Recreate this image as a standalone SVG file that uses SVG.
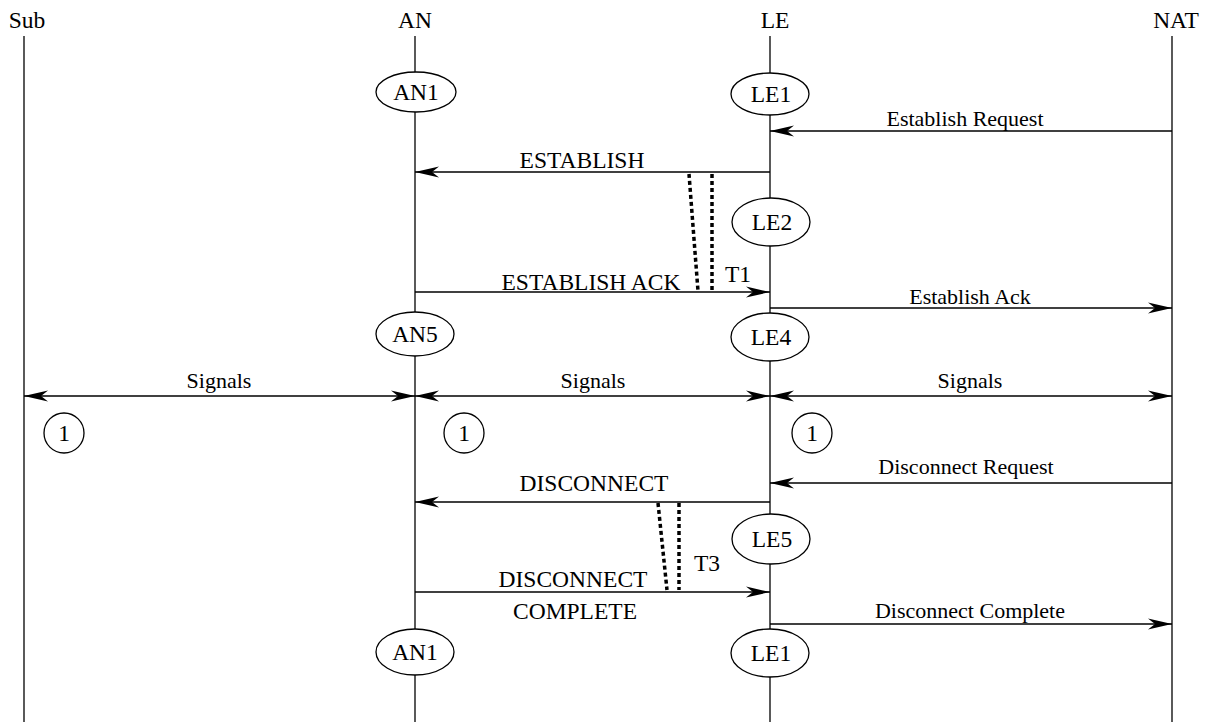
<svg xmlns="http://www.w3.org/2000/svg" width="1213" height="722" viewBox="0 0 1213 722">
<style>
text{font-family:"Liberation Serif","Times New Roman",serif;font-size:22px;fill:#000;text-anchor:middle}
text.u{font-size:23.5px}
.life{stroke:#000;stroke-width:1.3;fill:none}
.msg{stroke:#000;stroke-width:1.3;fill:none}
.node{stroke:#000;stroke-width:1.3;fill:#fff}
.timer{stroke:#000;stroke-width:3.5;stroke-dasharray:4 3;fill:none}
</style>
<defs>
<marker id="ah" viewBox="-25 -6 26 12" refX="0" refY="0" markerWidth="26" markerHeight="12" markerUnits="userSpaceOnUse" orient="auto-start-reverse">
<path d="M0,0 L-24,-5.5 L-17,0 L-24,5.5 Z" fill="#000"/>
</marker>
</defs>
<g id="lifelines">
<line class="life" x1="24" y1="36" x2="24" y2="722"/>
<line class="life" x1="415" y1="36" x2="415" y2="722"/>
<line class="life" x1="770" y1="36" x2="770" y2="722"/>
<line class="life" x1="1172" y1="36" x2="1172" y2="722"/>
<text class="u" x="27" y="28">Sub</text>
<text class="u" x="415" y="28">AN</text>
<text class="u" x="775" y="28">LE</text>
<text class="u" x="1176" y="28">NAT</text>
</g>
<g id="connectors">
<line class="msg" x1="1172" y1="131" x2="770" y2="131" marker-end="url(#ah)"/>
<line class="msg" x1="770" y1="172" x2="415" y2="172" marker-end="url(#ah)"/>
<line class="msg" x1="415" y1="292" x2="770" y2="292" marker-end="url(#ah)"/>
<line class="msg" x1="770" y1="308" x2="1172" y2="308" marker-end="url(#ah)"/>
<line class="msg" x1="24" y1="396" x2="415" y2="396" marker-start="url(#ah)" marker-end="url(#ah)"/>
<line class="msg" x1="415" y1="396" x2="770" y2="396" marker-start="url(#ah)" marker-end="url(#ah)"/>
<line class="msg" x1="770" y1="396" x2="1172" y2="396" marker-start="url(#ah)" marker-end="url(#ah)"/>
<line class="msg" x1="1172" y1="483" x2="770" y2="483" marker-end="url(#ah)"/>
<line class="msg" x1="770" y1="502" x2="415" y2="502" marker-end="url(#ah)"/>
<line class="msg" x1="415" y1="592" x2="770" y2="592" marker-end="url(#ah)"/>
<line class="msg" x1="770" y1="624" x2="1172" y2="624" marker-end="url(#ah)"/>
<line class="timer" x1="689" y1="174" x2="698" y2="291"/>
<line class="timer" x1="712" y1="174" x2="712" y2="291"/>
<line class="timer" x1="658" y1="503" x2="667" y2="590"/>
<line class="timer" x1="679" y1="503" x2="679" y2="590"/>
<text x="965" y="126">Establish Request</text>
<text class="u" x="582" y="168">ESTABLISH</text>
<text class="u" x="738" y="282">T1</text>
<text class="u" x="591" y="290">ESTABLISH ACK</text>
<text x="970" y="304">Establish Ack</text>
<text x="219" y="388">Signals</text>
<text x="593" y="388">Signals</text>
<text x="970" y="388">Signals</text>
<text x="966" y="474">Disconnect Request</text>
<text class="u" x="594" y="491">DISCONNECT</text>
<text class="u" x="707" y="571">T3</text>
<text class="u" x="573" y="587">DISCONNECT</text>
<text class="u" x="575" y="619">COMPLETE</text>
<text x="970" y="618">Disconnect Complete</text>
</g>
<g id="AN1"><ellipse class="node" cx="416" cy="92" rx="40" ry="20"/><text class="u" x="416" y="100">AN1</text></g>
<g id="LE1"><ellipse class="node" cx="770" cy="94" rx="39" ry="21"/><text class="u" x="771" y="102">LE1</text></g>
<g id="LE2"><ellipse class="node" cx="771" cy="222" rx="39" ry="24"/><text class="u" x="772" y="230">LE2</text></g>
<g id="AN5"><ellipse class="node" cx="415" cy="334" rx="39" ry="22"/><text class="u" x="415" y="342">AN5</text></g>
<g id="LE4"><ellipse class="node" cx="770" cy="337" rx="39" ry="24"/><text class="u" x="771" y="345">LE4</text></g>
<g id="C1a"><circle class="node" cx="64" cy="433" r="20"/><text class="u" x="64" y="441">1</text></g>
<g id="C1b"><circle class="node" cx="464" cy="433" r="20"/><text class="u" x="464" y="441">1</text></g>
<g id="C1c"><circle class="node" cx="812" cy="433" r="20"/><text class="u" x="812" y="441">1</text></g>
<g id="LE5"><ellipse class="node" cx="771" cy="539" rx="39" ry="25"/><text class="u" x="772" y="547">LE5</text></g>
<g id="AN1b"><ellipse class="node" cx="415" cy="652" rx="39" ry="23"/><text class="u" x="415" y="660">AN1</text></g>
<g id="LE1b"><ellipse class="node" cx="770" cy="653" rx="39" ry="24"/><text class="u" x="771" y="661">LE1</text></g>
</svg>
